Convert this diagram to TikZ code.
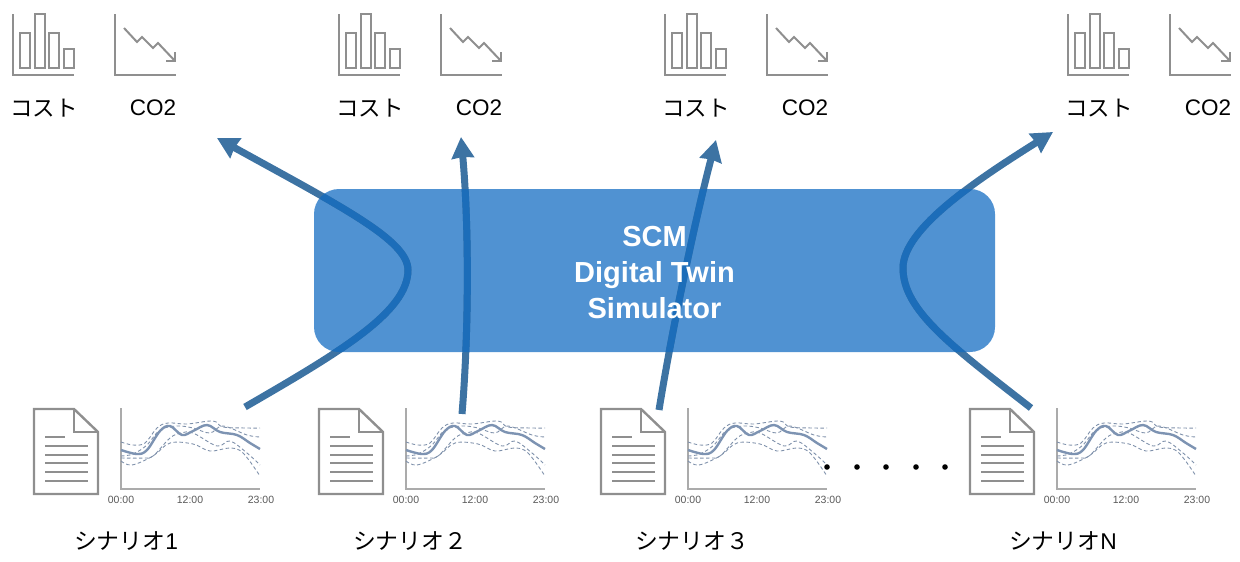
\documentclass[tikz,border=0pt]{standalone}
\usepackage{fontspec}
\setmainfont{Liberation Sans}
\newfontfamily\cjk{Noto Sans CJK JP}
\usetikzlibrary{arrows.meta}
\definecolor{simblue}{HTML}{5092D2}
\definecolor{flowout}{HTML}{3D73A3}
\definecolor{flowin}{HTML}{1C6DB9}
\definecolor{icongray}{HTML}{8F8F8F}
\definecolor{axisgray}{HTML}{ABABAB}
\definecolor{trendblue}{HTML}{7D93B2}
\definecolor{dashblue}{HTML}{7F91AB}
\tikzset{
  iconline/.style={draw=icongray,line width=2pt},
  axisline/.style={draw=axisgray,line width=1.2pt},
  meanline/.style={draw=trendblue,line width=2.4pt,line join=round},
  spreadline/.style={draw=dashblue,line width=0.9pt,dash pattern=on 3.5pt off 2.5pt},
  toplabel/.style={font=\fontsize{22.5}{26}\selectfont,text=black,inner sep=0pt},
  scnlabel/.style={font=\fontsize{22.8}{26}\selectfont,text=black,inner sep=0pt},
  ticklabel/.style={font=\fontsize{10.5}{12}\selectfont,text=black!65,inner sep=0pt},
  flow/.style={line width=7pt,-{Stealth[length=21pt,width=22pt,inset=1pt]}},
}
\newcommand{\flowpaths}[1]{%
  \draw[flow,#1] (scn1) .. controls (340,352) and (408,312) .. (408,270) .. controls (408,240) and (340,206) .. (res1);
  \draw[flow,#1] (scn2) .. controls (469,330) and (469,225) .. (res2);
  \draw[flow,#1] (scn3) .. controls (672,330) and (695,220) .. (res3);
  \draw[flow,#1] (scn4) .. controls (950,345) and (903,310) .. (903,268) .. controls (903,228) and (980,178) .. (res4);
}
\begin{document}
\begin{tikzpicture}[x=1pt,y=-1pt]
\useasboundingbox (0,0) rectangle (1240,562);
% Drawing results
\foreach \dx/\i in {0/1,326/2,652/3,1055/4}{
\begin{scope}[xshift=\dx]
\draw[iconline] (12.5,14) -- (12.5,74.5) -- (74,74.5);
\foreach \bx/\btop in {20/33,35/14,49/33,64/49}
  \draw[iconline] (\bx,\btop) rectangle (\bx+9.5,67.5);
\draw[iconline] (115,14) -- (115,74.5) -- (176,74.5);
\draw[iconline] (124,28) -- (137,42) -- (142,37) -- (153,48) -- (158,43) -- (175,61);
\draw[iconline] (166,61) -- (175,61) -- (175,52);
\node[toplabel] (cost\i) at (44,108) {\cjk コスト};
\node[toplabel] (co\i) at (153,108) {CO2};
\end{scope}
}
% Drawing scenarios
\foreach \dx/\i in {0/1,285/2,567/3,936/4}{
\begin{scope}[xshift=\dx]
\draw[iconline,line width=2.4pt,line join=miter] (34,409) -- (74,409) -- (98,432) -- (98,494) -- (34,494) -- cycle;
\draw[iconline,line width=2.4pt] (74,409) -- (74,432) -- (98,432);
\draw[iconline] (45,437) -- (65,437);
\foreach \ly in {446,455,463,472,481}
  \draw[iconline] (45,\ly) -- (88,\ly);
\begin{scope}[shift={(121,408)}]
\draw[axisline] (0,0) -- (0,81) -- (139,81);
\draw[spreadline] plot[smooth,tension=0.6] coordinates {(0,34) (12,37) (24,35) (36,20) (47,15) (66,16) (92,13) (102,19) (126,20) (139,20)};
\draw[spreadline] plot[smooth,tension=0.6] coordinates {(0,48) (12,46) (26,37) (39,22) (56,18) (72,20) (89,25) (102,18) (126,27) (139,29)};
\draw[spreadline] plot[smooth,tension=0.6] coordinates {(0,50) (22,50) (32,48) (49,30) (60,25) (72,25) (96,38) (109,33) (126,45) (139,57)};
\draw[spreadline] plot[smooth,tension=0.6] coordinates {(0,53) (11,57) (32,48) (49,35) (72,36) (89,43) (109,40) (122,45) (139,68)};
\draw[meanline] plot[smooth,tension=0.6] coordinates {(0,42) (16,46) (26,42) (39,23) (49,18) (61,27) (72,23) (86,17) (99,24) (116,27) (129,35) (139,41)};
\node[ticklabel] (ta\i) at (0,92) {00:00};
\node[ticklabel] (tb\i) at (69,92) {12:00};
\node[ticklabel] (tc\i) at (140,92) {23:00};
\end{scope}
\end{scope}
}
\node[scnlabel] (name1) at (126,541) {{\cjk シナリオ}1};
\node[scnlabel] (name2) at (410,541) {\cjk シナリオ２};
\node[scnlabel] (name3) at (692,541) {\cjk シナリオ３};
\node[scnlabel] (name4) at (1063,541) {{\cjk シナリオ}N};
% Done with scenarios; drawing dots
\foreach \px in {827,857,886,916,945}
  \fill[black] (\px,467) circle (2.8pt);
% Drawing simulator and flows
\fill[simblue,rounded corners=25pt] (314,189) rectangle (995,352);
\coordinate (scn1) at (245,407);
\coordinate (res1) at (217,138);
\coordinate (scn2) at (462,414);
\coordinate (res2) at (461,137);
\coordinate (scn3) at (659,410);
\coordinate (res3) at (716,140);
\coordinate (scn4) at (1031,408);
\coordinate (res4) at (1053,132);
\flowpaths{color=flowout}
\begin{scope}
\clip[rounded corners=25pt] (314,189) rectangle (995,352);
\flowpaths{color=flowin}
\end{scope}
\node[align=center,text=white,font=\fontsize{29}{36}\selectfont\bfseries,inner sep=0pt] (sim) at (654.5,273) {SCM\\Digital Twin\\Simulator};
\end{tikzpicture}
\end{document}
